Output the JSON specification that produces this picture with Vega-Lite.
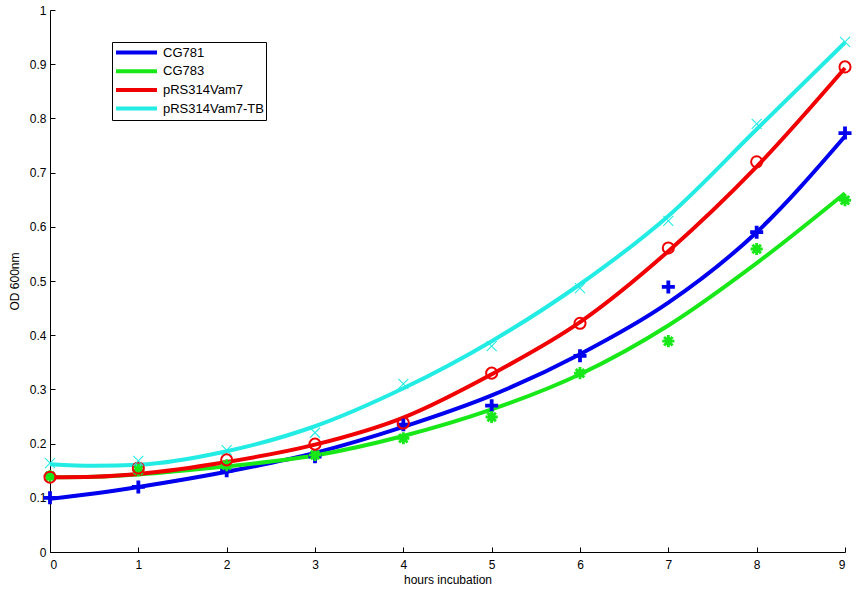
{
  "$schema": "https://vega.github.io/schema/vega-lite/v6.json",
  "width": 795,
  "height": 542,
  "autosize": {"type": "none"},
  "padding": {"left": 50, "top": 10, "right": 18, "bottom": 43},
  "background": "white",
  "config": {
    "view": {"stroke": null},
    "axis": {
      "grid": false,
      "domainColor": "black",
      "domainWidth": 1,
      "tickColor": "black",
      "tickWidth": 1,
      "tickSize": -5,
      "labelColor": "black",
      "labelFont": "Liberation Sans",
      "labelFontSize": 12,
      "titleFont": "Liberation Sans",
      "titleFontSize": 12,
      "titleFontWeight": "normal",
      "titleColor": "black"
    },
    "legend": {
      "orient": "none",
      "legendX": 62,
      "legendY": 32,
      "strokeColor": "black",
      "fillColor": "white",
      "padding": 2,
      "symbolType": "stroke",
      "symbolSize": 1681,
      "symbolStrokeWidth": 4,
      "clipHeight": 17,
      "rowPadding": 1.7,
      "labelFont": "Liberation Sans",
      "labelFontSize": 13,
      "labelColor": "black",
      "labelOffset": 4
    }
  },
  "datasets": {
    "curves": [
      {"series": "CG781", "hours": 0, "od": 0.098},
      {"series": "CG781", "hours": 0.5, "od": 0.108},
      {"series": "CG781", "hours": 1, "od": 0.12},
      {"series": "CG781", "hours": 2, "od": 0.148},
      {"series": "CG781", "hours": 3, "od": 0.183},
      {"series": "CG781", "hours": 4, "od": 0.231},
      {"series": "CG781", "hours": 5, "od": 0.289},
      {"series": "CG781", "hours": 6, "od": 0.365},
      {"series": "CG781", "hours": 7, "od": 0.46},
      {"series": "CG781", "hours": 8, "od": 0.59},
      {"series": "CG781", "hours": 9, "od": 0.767},
      {"series": "CG783", "hours": 0, "od": 0.138},
      {"series": "CG783", "hours": 0.5, "od": 0.139},
      {"series": "CG783", "hours": 1, "od": 0.143},
      {"series": "CG783", "hours": 2, "od": 0.158},
      {"series": "CG783", "hours": 3, "od": 0.178},
      {"series": "CG783", "hours": 4, "od": 0.214},
      {"series": "CG783", "hours": 5, "od": 0.263},
      {"series": "CG783", "hours": 6, "od": 0.328},
      {"series": "CG783", "hours": 7, "od": 0.418},
      {"series": "CG783", "hours": 8, "od": 0.533},
      {"series": "CG783", "hours": 9, "od": 0.662},
      {"series": "pRS314Vam7", "hours": 0, "od": 0.138},
      {"series": "pRS314Vam7", "hours": 0.5, "od": 0.139},
      {"series": "pRS314Vam7", "hours": 1, "od": 0.144},
      {"series": "pRS314Vam7", "hours": 2, "od": 0.166},
      {"series": "pRS314Vam7", "hours": 3, "od": 0.198},
      {"series": "pRS314Vam7", "hours": 4, "od": 0.248},
      {"series": "pRS314Vam7", "hours": 5, "od": 0.328},
      {"series": "pRS314Vam7", "hours": 6, "od": 0.424},
      {"series": "pRS314Vam7", "hours": 7, "od": 0.555},
      {"series": "pRS314Vam7", "hours": 8, "od": 0.711},
      {"series": "pRS314Vam7", "hours": 9, "od": 0.893},
      {"series": "pRS314Vam7-TB", "hours": 0, "od": 0.162},
      {"series": "pRS314Vam7-TB", "hours": 0.5, "od": 0.159},
      {"series": "pRS314Vam7-TB", "hours": 1, "od": 0.161},
      {"series": "pRS314Vam7-TB", "hours": 2, "od": 0.186},
      {"series": "pRS314Vam7-TB", "hours": 3, "od": 0.232},
      {"series": "pRS314Vam7-TB", "hours": 4, "od": 0.302},
      {"series": "pRS314Vam7-TB", "hours": 5, "od": 0.389},
      {"series": "pRS314Vam7-TB", "hours": 6, "od": 0.494},
      {"series": "pRS314Vam7-TB", "hours": 7, "od": 0.62},
      {"series": "pRS314Vam7-TB", "hours": 8, "od": 0.78},
      {"series": "pRS314Vam7-TB", "hours": 9, "od": 0.94}
    ],
    "points": [
      {"strain": "CG781", "hours": 0, "od": 0.1},
      {"strain": "CG781", "hours": 1, "od": 0.12},
      {"strain": "CG781", "hours": 2, "od": 0.15},
      {"strain": "CG781", "hours": 3, "od": 0.176},
      {"strain": "CG781", "hours": 4, "od": 0.235},
      {"strain": "CG781", "hours": 5, "od": 0.27},
      {"strain": "CG781", "hours": 6, "od": 0.362},
      {"strain": "CG781", "hours": 7, "od": 0.489},
      {"strain": "CG781", "hours": 8, "od": 0.59},
      {"strain": "CG781", "hours": 9, "od": 0.773},
      {"strain": "CG783", "hours": 0, "od": 0.14},
      {"strain": "CG783", "hours": 1, "od": 0.151},
      {"strain": "CG783", "hours": 2, "od": 0.16},
      {"strain": "CG783", "hours": 3, "od": 0.179},
      {"strain": "CG783", "hours": 4, "od": 0.21},
      {"strain": "CG783", "hours": 5, "od": 0.249},
      {"strain": "CG783", "hours": 6, "od": 0.33},
      {"strain": "CG783", "hours": 7, "od": 0.389},
      {"strain": "CG783", "hours": 8, "od": 0.559},
      {"strain": "CG783", "hours": 9, "od": 0.649},
      {"strain": "pRS314Vam7", "hours": 0, "od": 0.138},
      {"strain": "pRS314Vam7", "hours": 1, "od": 0.155},
      {"strain": "pRS314Vam7", "hours": 2, "od": 0.17},
      {"strain": "pRS314Vam7", "hours": 3, "od": 0.199},
      {"strain": "pRS314Vam7", "hours": 4, "od": 0.238},
      {"strain": "pRS314Vam7", "hours": 5, "od": 0.33},
      {"strain": "pRS314Vam7", "hours": 6, "od": 0.422},
      {"strain": "pRS314Vam7", "hours": 7, "od": 0.561},
      {"strain": "pRS314Vam7", "hours": 8, "od": 0.72},
      {"strain": "pRS314Vam7", "hours": 9, "od": 0.895},
      {"strain": "pRS314Vam7-TB", "hours": 0, "od": 0.164},
      {"strain": "pRS314Vam7-TB", "hours": 1, "od": 0.168},
      {"strain": "pRS314Vam7-TB", "hours": 2, "od": 0.188},
      {"strain": "pRS314Vam7-TB", "hours": 3, "od": 0.22},
      {"strain": "pRS314Vam7-TB", "hours": 4, "od": 0.31},
      {"strain": "pRS314Vam7-TB", "hours": 5, "od": 0.38},
      {"strain": "pRS314Vam7-TB", "hours": 6, "od": 0.487},
      {"strain": "pRS314Vam7-TB", "hours": 7, "od": 0.611},
      {"strain": "pRS314Vam7-TB", "hours": 8, "od": 0.79},
      {"strain": "pRS314Vam7-TB", "hours": 9, "od": 0.941}
    ]
  },
  "encoding": {
    "x": {
      "field": "hours",
      "type": "quantitative",
      "scale": {"domain": [0, 9], "nice": false, "zero": false},
      "axis": {"values": [0, 1, 2, 3, 4, 5, 6, 7, 8, 9], "title": "hours incubation", "labelPadding": 12, "titlePadding": 4}
    },
    "y": {
      "field": "od",
      "type": "quantitative",
      "scale": {"domain": [0, 1], "nice": false},
      "axis": {"values": [0, 0.1, 0.2, 0.3, 0.4, 0.5, 0.6, 0.7, 0.8, 0.9, 1], "format": "~g", "title": "OD 600nm", "labelPadding": 9, "titlePadding": 8}
    }
  },
  "layer": [
    {
      "data": {"name": "curves"},
      "mark": {"type": "line", "interpolate": "monotone", "strokeWidth": 4, "strokeCap": "butt"},
      "encoding": {
        "color": {
          "field": "series",
          "type": "nominal",
          "scale": {
            "domain": ["CG781", "CG783", "pRS314Vam7", "pRS314Vam7-TB"],
            "range": ["#0000ee", "#18e818", "#f00000", "#22ece4"]
          },
          "legend": {"title": null, "symbolType": "stroke"}
        },
        "order": {"field": "hours", "type": "quantitative"}
      }
    },
    {
      "data": {"name": "points"},
      "mark": {"type": "point", "filled": false, "opacity": 1},
      "encoding": {
        "stroke": {
          "field": "strain",
          "type": "nominal",
          "scale": {"range": ["#0000ee", "#18e818", "#f00000", "#22ece4"]},
          "legend": null
        },
        "shape": {
          "field": "strain",
          "type": "nominal",
          "scale": {
            "range": ["M-1,0H1M0,-1V1", "M-1,0H1M0,-1V1M-0.7,-0.7L0.7,0.7M-0.7,0.7L0.7,-0.7", "circle", "M-1,-1L1,1M-1,1L1,-1"]
          },
          "legend": null
        },
        "strokeWidth": {
          "field": "strain",
          "type": "nominal",
          "scale": {"range": [3.8, 1.1, 1.7, 1.6]},
          "legend": null
        },
        "size": {
          "field": "strain",
          "type": "nominal",
          "scale": {"range": [170, 100, 55, 64]},
          "legend": null
        }
      }
    }
  ]
}
